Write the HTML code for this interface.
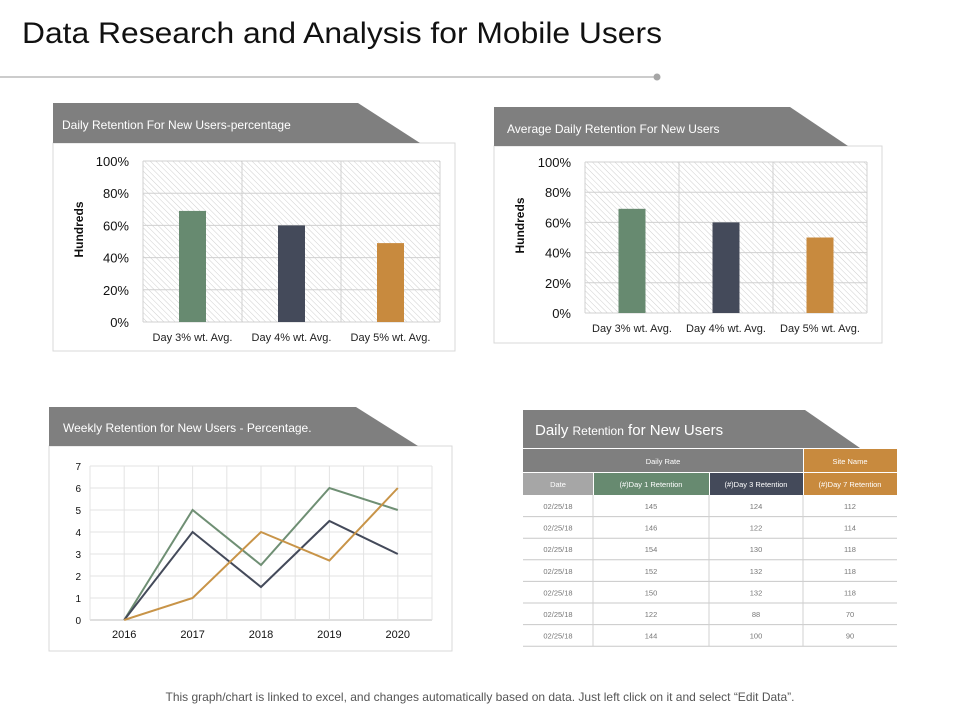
<!DOCTYPE html>
<html><head><meta charset="utf-8"><style>
body{margin:0;background:#fff;}
svg{display:block;font-family:"Liberation Sans",sans-serif;}
</style></head><body>
<svg id="s" width="960" height="720" viewBox="0 0 960 720">
<defs>
<pattern id="hatch" width="4" height="4" patternUnits="userSpaceOnUse" patternTransform="rotate(-45)">
<rect width="4" height="4" fill="#fff"/><line x1="0" y1="0" x2="0" y2="4" stroke="#cfcfcf" stroke-width="1"/>
</pattern>
</defs>
<text x="22" y="43" font-size="30" fill="#111" textLength="640" lengthAdjust="spacingAndGlyphs">Data Research and Analysis for Mobile Users</text>
<line x1="0" y1="77" x2="657" y2="77" stroke="#999" stroke-width="1"/>
<circle cx="657" cy="77" r="3.5" fill="#a6a6a6"/>

<rect x="53" y="143" width="402" height="208" fill="#fff" stroke="#d9d9d9"/>
<polygon points="53,103 358,103 420,143 53,143" fill="#7f7f7f"/>
<text x="62" y="129" font-size="12" fill="#fff">Daily Retention  For New Users-percentage</text>
<g id="c1"></g>

<rect x="494" y="146" width="388" height="197" fill="#fff" stroke="#d9d9d9"/>
<polygon points="494,107 790,107 848,146 494,146" fill="#7f7f7f"/>
<text x="507" y="133" font-size="12" fill="#fff">Average  Daily Retention  For New Users</text>
<g id="c2"></g>

<rect x="49" y="446" width="403" height="205" fill="#fff" stroke="#d9d9d9"/>
<polygon points="49,407 356,407 418,446 49,446" fill="#7f7f7f"/>
<text x="63" y="432" font-size="12" fill="#fff">Weekly Retention  for New Users - Percentage.</text>
<g id="c3"></g>

<polygon points="523,410 805,410 860,448 523,448" fill="#7f7f7f"/>
<text x="535" y="435" font-size="15" fill="#fff">Daily <tspan font-size="12">Retention</tspan> for New Users</text>
<g id="tbl"></g>

<text x="480" y="701" font-size="12" fill="#555" text-anchor="middle">This graph/chart is linked to excel, and changes automatically based on data. Just left click on it and select “Edit Data”.</text>
</svg>
<script>
const NS="http://www.w3.org/2000/svg";
function mk(tag,attrs,parent,txt){const e=document.createElementNS(NS,tag);for(const k in attrs)e.setAttribute(k,attrs[k]);if(txt!==undefined)e.textContent=txt;parent.appendChild(e);return e;}

const barCategories=["Day  3% wt. Avg.","Day  4% wt. Avg.","Day  5% wt. Avg."];
const bar1Values=[69,60,49];
const bar2Values=[69,60,50];
const barTicks=[0,20,40,60,80,100];
const barColors=["#678a70","#444a5a","#c88a3e"];

function barChart(g,L,R,T,B,vals,prefix,ylabX){
  const y=v=>B-(v/100)*(B-T);
  const cw=(R-L)/barCategories.length;
  const x=i=>L+cw*i+cw/2;
  let r=mk('rect',{x:L,y:T,width:R-L,height:B-T,fill:'url(#hatch)'},g);
  
  
  barTicks.forEach(t=>{
    let l=mk('line',{x1:L,x2:R,y1:y(t),y2:y(t),stroke:'#d0d0d0'},g);
    
    
    let tx=mk('text',{x:L-14,y:y(t)+5,'font-size':13,'text-anchor':'end',fill:'#111'},g,t+'%');
    
    
  });
  for(let i=0;i<=barCategories.length;i++){
    let l=mk('line',{x1:L+cw*i,x2:L+cw*i,y1:T,y2:B,stroke:'#d0d0d0'},g);
    
    
  }
  vals.forEach((v,i)=>{
    let b=mk('rect',{x:x(i)-13.5,y:y(v),width:27,height:B-y(v),fill:barColors[i]},g);
    
    
    let tx=mk('text',{x:x(i),y:B+19,'font-size':11,'text-anchor':'middle',fill:'#222'},g,barCategories[i]);
    
    
  });
  let yt=mk('text',{x:ylabX,y:(T+B)/2-12,'font-size':12,'font-weight':'bold','text-anchor':'middle',fill:'#111',transform:`rotate(-90 ${ylabX} ${(T+B)/2-12})`},g,'Hundreds');
  
  
}
barChart(document.getElementById('c1'),143,440,161,322,bar1Values,'chart1',83);
barChart(document.getElementById('c2'),585,867,162,313,bar2Values,'chart2',524);

const years=["2016","2017","2018","2019","2020"];
const seriesGreen=[0,5,2.5,6,5];
const seriesNavy=[0,4,1.5,4.5,3];
const seriesOrange=[0,1,4,2.7,6];
const lineTicks=[0,1,2,3,4,5,6,7];
(function(){
  const g=document.getElementById('c3');
  const L=90,R=432,T=466,B=620;
  const cw=(R-L)/years.length;
  const x=i=>L+cw*i+cw/2;
  const y=v=>B-(v/7)*(B-T);
  lineTicks.forEach(t=>{
    let l=mk('line',{x1:L,x2:R,y1:y(t),y2:y(t),stroke:t===0?'#bfbfbf':'#e3e3e3'},g);
    
    
    let tx=mk('text',{x:L-9,y:y(t)+4,'font-size':10,'text-anchor':'end',fill:'#111'},g,t);
    
    
  });
  for(let i=0;i<=years.length*2;i++){
    let xx=L+cw*i/2;
    let l=mk('line',{x1:xx,x2:xx,y1:T,y2:B,stroke:'#e3e3e3'},g);
    
    
  }
  years.forEach((yr,i)=>{
    let tx=mk('text',{x:x(i),y:B+18,'font-size':11,'text-anchor':'middle',fill:'#111'},g,yr);
    
    
  });
  [[seriesGreen,'#6f8f74','green'],[seriesNavy,'#444a5a','navy'],[seriesOrange,'#c89448','orange']].forEach(([s,c,n])=>{
    let p=mk('polyline',{points:s.map((v,i)=>x(i)+','+y(v)).join(' '),fill:'none',stroke:c,'stroke-width':2},g);
    
    
  });
})();

const tblDates=["02/25/18","02/25/18","02/25/18","02/25/18","02/25/18","02/25/18","02/25/18"];
const tblDay1=[145,146,154,152,150,122,144];
const tblDay3=[124,122,130,132,132,88,100];
const tblDay7=[112,114,118,118,118,70,90];
(function(){
  const g=document.getElementById('tbl');
  const cx=[523,593,709,803,897];
  let r;
  r=mk('rect',{x:523,y:449,width:280,height:23,fill:'#7f7f7f'},g);
  
  
  r=mk('rect',{x:804,y:449,width:93,height:23,fill:'#c88a3e'},g);
  
  
  let t=mk('text',{x:663,y:464,'font-size':7.5,'text-anchor':'middle',fill:'#fff'},g,'Daily Rate');
  
  
  t=mk('text',{x:850,y:464,'font-size':7.5,'text-anchor':'middle',fill:'#fff'},g,'Site Name');
  
  
  const hdr=["Date","(#)Day  1 Retention","(#)Day  3 Retention","(#)Day  7 Retention"];
  const hc=["#a6a6a6","#678a70","#444a5a","#c88a3e"];
  hdr.forEach((h,i)=>{
    let rr=mk('rect',{x:cx[i]+(i?1:0),y:473,width:cx[i+1]-cx[i]-(i?1:0),height:22,fill:hc[i]},g);
    
    
    let tt=mk('text',{x:(cx[i]+cx[i+1])/2,y:487,'font-size':7.5,'text-anchor':'middle',fill:'#fff'},g,h);
    
    
  });
  const rh=21.6;
  tblDates.forEach((d,j)=>{
    const y0=495+rh*j;
    const vals=[d,tblDay1[j],tblDay3[j],tblDay7[j]];
    vals.forEach((v,i)=>{
      let tt=mk('text',{x:(cx[i]+cx[i+1])/2,y:y0+14,'font-size':7.5,'text-anchor':'middle',fill:'#777'},g,v);
      
      
    });
    let l=mk('line',{x1:523,x2:897,y1:y0+rh,y2:y0+rh,stroke:'#c8c8c8'},g);
    
    
  });
  [593,709,803].forEach(xx=>{
    let l=mk('line',{x1:xx,x2:xx,y1:495,y2:646,stroke:'#d0d0d0'},g);
    
    
  });
})();
</script>
</body></html>
